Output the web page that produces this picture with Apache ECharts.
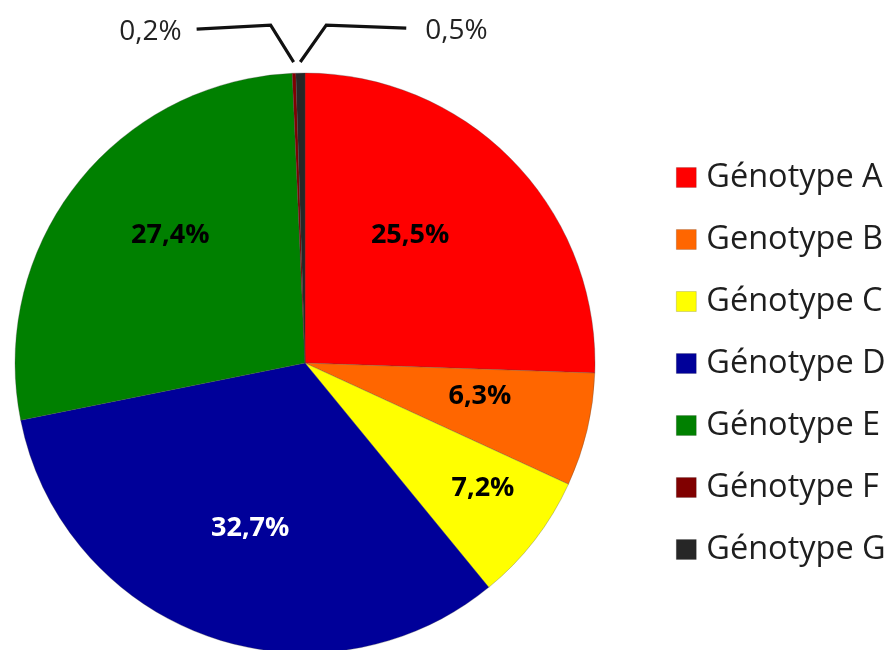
<!DOCTYPE html>
<html>
<head>
<meta charset="utf-8">
<style>
  html, body { margin: 0; padding: 0; background: #ffffff; }
  #chart { width: 889px; height: 650px; }
</style>
<script src="https://cdn.jsdelivr.net/npm/echarts@6/dist/echarts.min.js"></script>
</head>
<body>
<div id="chart"></div>
<script>
// Genotype distribution (percent)
const genotypes = ['Génotype A', 'Genotype B', 'Génotype C', 'Génotype D', 'Génotype E', 'Génotype F', 'Génotype G'];
const shares = [25.5, 6.3, 7.2, 32.7, 27.4, 0.2, 0.5];
const colors = ['#ff0000', '#ff6600', '#ffff00', '#000099', '#008000', '#800000', '#262626'];

// label placement for inside labels: fraction of radius and angular shift (degrees)
const labelRadius = [0.571, 0.614, 0.75, 0.6, 0.641, 1, 1];
const labelShift = [-6.6, -2.6, -2.6, -1.3, 5.5, 0, 0];
const labelColors = ['#000', '#000', '#000', '#fff', '#000', '#222', '#222'];
const outsideIdx = [5, 6];

const CENTER = [305, 363];
const RADIUS = 290;
const total = shares.reduce((a, b) => a + b, 0);

function midAngle(i) {
  let before = 0;
  for (let k = 0; k < i; k++) before += shares[k];
  return ((before + shares[i] / 2) / total) * 2 * Math.PI;
}
function polar(angle, r) {
  return [CENTER[0] + r * Math.sin(angle), CENTER[1] - r * Math.cos(angle)];
}
const fmt = v => v.toFixed(1).replace('.', ',') + '%';

const chart = echarts.init(document.getElementById('chart'), null, { renderer: 'canvas' });

const data = genotypes.map((name, i) => {
  const outside = outsideIdx.includes(i);
  return {
    name,
    value: shares[i],
    itemStyle: { color: colors[i] },
    label: outside
      ? { show: true, position: 'outside', color: labelColors[i], fontSize: 28, fontWeight: 'normal' }
      : { show: true, position: 'inside', color: labelColors[i], fontSize: 27, fontWeight: 'bold' },
    labelLine: { show: outside, lineStyle: { color: '#111', width: 3.2 } }
  };
});

chart.setOption({
  animation: false,
  legend: {
    orient: 'vertical',
    left: 676,
    top: 161,
    padding: 0,
    itemWidth: 20,
    itemHeight: 20,
    itemGap: 29,
    icon: 'rect',
    data: genotypes,
    itemStyle: { borderColor: 'rgba(0,0,0,0.25)', borderWidth: 0.6 },
    textStyle: {
      fontFamily: 'Open Sans',
      fontSize: 32.5,
      color: '#1e1e1e',
      padding: [0, 0, 0, 5]
    }
  },
  series: [{
    type: 'pie',
    center: CENTER,
    radius: RADIUS,
    startAngle: 90,
    clockwise: true,
    avoidLabelOverlap: false,
    data,
    itemStyle: { borderColor: 'rgba(70,70,70,0.5)', borderWidth: 0.6 },
    label: {
      fontFamily: 'Open Sans',
      formatter: p => fmt(p.value)
    },
    labelLayout: params => {
      const i = params.dataIndex;
      const a = midAngle(i);
      if (!outsideIdx.includes(i)) {
        const [x, y] = polar(a + labelShift[i] * Math.PI / 180, RADIUS * labelRadius[i]);
        return { x, y, align: 'center', verticalAlign: 'middle' };
      }
      const start = polar(a, RADIUS + 11);
      const left = i === 5;
      const dir = left ? -1 : 1;
      const elbow = [start[0] + dir * (left ? 23 : 26), start[1] - 37];
      const end = [elbow[0] + dir * (left ? 74 : 80), elbow[1] + (left ? 4 : 3)];
      return {
        x: end[0] + dir * (left ? 15 : 19),
        y: end[1] + 3,
        align: left ? 'right' : 'left',
        verticalAlign: 'middle',
        labelLinePoints: [start, elbow, end]
      };
    }
  }]
});
</script>
</body>
</html>
